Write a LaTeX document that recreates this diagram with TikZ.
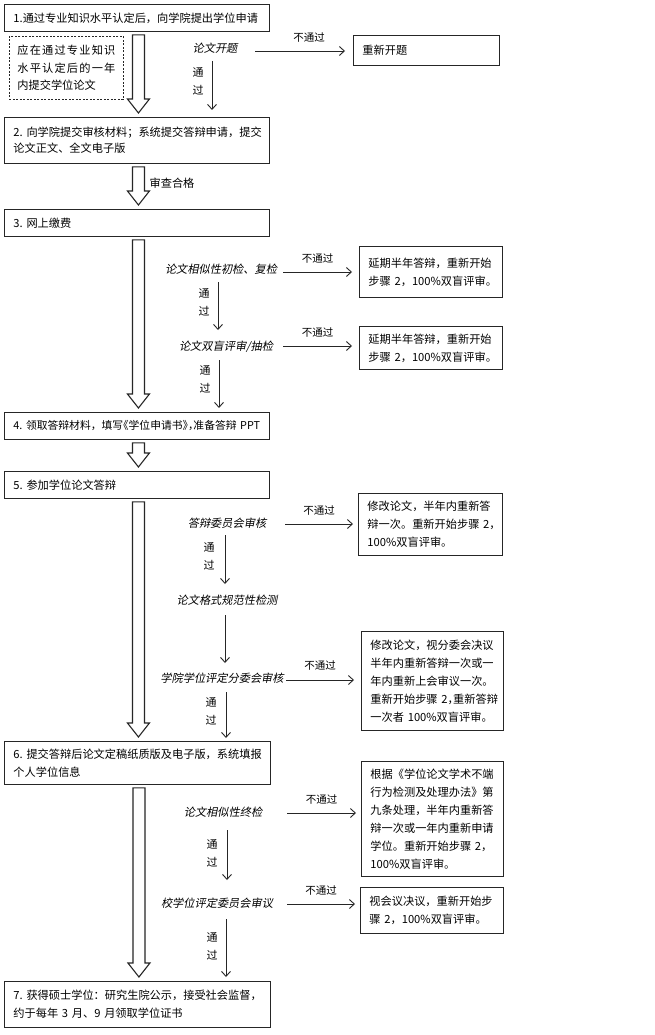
\documentclass[tikz,border=0pt]{standalone}
\usepackage{fontspec}
\setmainfont{Noto Sans CJK SC}
\newfontfamily\cjkit[FakeSlant=0.2]{Noto Sans CJK SC}
\newfontfamily\cjkh[RawFeature=+halt]{Noto Sans CJK SC}
\usetikzlibrary{calc,arrows.meta}
\tikzset{
  mainbox/.style={draw=black!85, line width=0.9pt, anchor=north west, inner xsep=9pt, inner ysep=0pt, align=left, font=\fontsize{11.2pt}{17pt}\selectfont},
  sidebox/.style={mainbox, font=\fontsize{11.2pt}{18pt}\selectfont},
  notebox/.style={draw=black!85, line width=0.8pt, dash pattern=on 2pt off 1.5pt, anchor=north west, inner xsep=8pt, inner ysep=0pt, align=left, font=\fontsize{11.2pt}{17.5pt}\selectfont},
  stlbl/.style={inner sep=0pt, font=\cjkit\fontsize{11.2pt}{13pt}\selectfont},
  passlbl/.style={inner sep=0pt, align=center, font=\fontsize{11pt}{18pt}\selectfont},
  faillbl/.style={inner sep=0pt, font=\fontsize{10.5pt}{12pt}\selectfont},
  plainlbl/.style={inner sep=0pt, font=\fontsize{11.2pt}{13pt}\selectfont},
  arr/.style={draw=black!85, line width=0.9pt, -{Straight Barb[length=5pt,width=9pt]}},
  hollow/.style={draw=black!85, line width=1.1pt, fill=white, line join=miter},
}
\newcommand\hollowarrow[2]{%
  \draw[hollow] let \p1=([xshift=1.5pt]#1.south), \p2=(#2.north) in
    (\x1-6pt,\y1-3pt) -- (\x1-6pt,\y2+18pt) -- (\x1-11pt,\y2+18pt) -- (\x1,\y2+4pt)
    -- (\x1+11pt,\y2+18pt) -- (\x1+6pt,\y2+18pt) -- (\x1+6pt,\y1-3pt) -- cycle;}
\begin{document}
\begin{tikzpicture}[x=1pt,y=-1pt]
\fill[white] (0,0) rectangle (655,1035);
\useasboundingbox (0,0) rectangle (655,1035);

% main column boxes
\node[mainbox, minimum width=265pt, minimum height=27pt, text width=247pt] (b1) at (4,4) {1.通过专业知识水平认定后，向学院提出学位申请};
\node[mainbox, minimum width=265pt, minimum height=46pt, text width=247pt, font=\fontsize{11.2pt}{16pt}\selectfont] (b2) at (4,117) {2.~向学院提交审核材料；系统提交答辩申请，提交\\论文正文、全文电子版};
\node[mainbox, minimum width=265pt, minimum height=27pt, text width=247pt] (b3) at (4,209) {3.~网上缴费};
\node[mainbox, minimum width=265pt, minimum height=27pt, text width=247pt, font=\fontsize{10.8pt}{16pt}\selectfont] (b4) at (4,412) {4.~领取答辩材料，填写{\cjkh 《}学位申请书{\cjkh 》，}准备答辩~PPT};
\node[mainbox, minimum width=265pt, minimum height=27pt, text width=247pt] (b5) at (4,471) {5.~参加学位论文答辩};
\node[mainbox, minimum width=266pt, minimum height=43pt, text width=248pt, font=\fontsize{11.2pt}{18pt}\selectfont] (b6) at (4,741) {6.~提交答辩后论文定稿纸质版及电子版，系统填报\\个人学位信息};
\node[mainbox, minimum width=266pt, minimum height=46pt, text width=248pt, font=\fontsize{11.2pt}{18pt}\selectfont] (b7) at (4,981) {7.~获得硕士学位：研究生院公示，接受社会监督，\\约于每年~3~月、9~月领取学位证书};

% dashed note
\node[notebox, minimum width=114pt, minimum height=63pt, text width=98pt] (note) at (9,36)
  {\makebox[98pt][s]{应\hfil 在\hfil 通\hfil 过\hfil 专\hfil 业\hfil 知\hfil 识}\\
   \makebox[98pt][s]{水\hfil 平\hfil 认\hfil 定\hfil 后\hfil 的\hfil 一\hfil 年}\\
   内提交学位论文};

% side boxes
\node[sidebox, minimum width=146pt, minimum height=30pt, text width=128pt] (r0) at (353,35) {重新开题};
\node[sidebox, minimum width=143pt, minimum height=51pt, text width=125pt] (r1) at (359,246) {延期半年答辩，重新开始\\步骤~2，100\%双盲评审。};
\node[sidebox, minimum width=143pt, minimum height=43pt, text width=125pt] (r2) at (359,326) {延期半年答辩，重新开始\\步骤~2，100\%双盲评审。};
\node[sidebox, minimum width=144pt, minimum height=62pt, text width=126pt] (r3) at (358,493) {修改论文，半年内重新答\\辩一次。重新开始步骤~2，\\100\%双盲评审。};
\node[sidebox, minimum width=142pt, minimum height=99pt, text width=124pt] (r4) at (361,631) {修改论文，视分委会决议\\半年内重新答辩一次或一\\年内重新上会审议一次。\\重新开始步骤~2{\cjkh ，}重新答辩\\一次者~100\%双盲评审。};
\node[sidebox, minimum width=142pt, minimum height=115pt, text width=124pt] (r5) at (361,761) {根据《学位论文学术不端\\行为检测及处理办法》第\\九条处理，半年内重新答\\辩一次或一年内重新申请\\学位。重新开始步骤~2，\\100\%双盲评审。};
\node[sidebox, minimum width=143pt, minimum height=46pt, text width=125pt] (r6) at (360,887) {视会议决议，重新开始步\\骤~2，100\%双盲评审。};

% step labels (italic)
\node[stlbl] (l0) at (215,48) {论文开题};
\node[stlbl] (l1) at (221,269) {论文相似性初检、复检};
\node[stlbl] (l2) at (226,347) {论文双盲评审/抽检};
\node[stlbl] (l3) at (227,523) {答辩委员会审核};
\node[stlbl] (l4) at (227,600) {论文格式规范性检测};
\node[stlbl] (l5) at (222,678) {学院学位评定分委会审核};
\node[stlbl] (l6) at (223,812) {论文相似性终检};
\node[stlbl] (l7) at (217,903) {校学位评定委员会审议};

% pass labels
\node[passlbl] (p0) at (198,81) {通\\过};
\node[passlbl] (p1) at (204,302) {通\\过};
\node[passlbl] (p2) at (205,379.5) {通\\过};
\node[passlbl] (p3) at (209,556) {通\\过};
\node[passlbl] (p5) at (211,711.5) {通\\过};
\node[passlbl] (p6) at (212,853) {通\\过};
\node[passlbl] (p7) at (212,946) {通\\过};

% hollow arrows
\hollowarrow{b1}{b2}
\hollowarrow{b2}{b3}
\hollowarrow{b3}{b4}
\hollowarrow{b4}{b5}
\hollowarrow{b5}{b6}
\hollowarrow{b6}{b7}
\node[plainlbl] (chk) at (172,183) {审查合格};

% fail arrows
\draw[arr] ($(r0.west |- l0)+(-98,3)$) -- ($(r0.west |- l0)+(-8,3)$) node[faillbl, midway, yshift=13pt, xshift=9pt] (n0) {不通过};
\draw[arr] ($(r1.west |- l1)+(-76,3)$) -- ($(r1.west |- l1)+(-7,3)$) node[faillbl, midway, yshift=13pt] (n1) {不通过};
\draw[arr] ($(r2.west |- l2)+(-76,-1)$) -- ($(r2.west |- l2)+(-7,-1)$) node[faillbl, midway, yshift=13pt] (n2) {不通过};
\draw[arr] ($(r3.west |- l3)+(-73,1)$) -- ($(r3.west |- l3)+(-5,1)$) node[faillbl, midway, yshift=13pt] (n3) {不通过};
\draw[arr] ($(r4.west |- l5)+(-75,2)$) -- ($(r4.west |- l5)+(-7,2)$) node[faillbl, midway, yshift=14pt] (n5) {不通过};
\draw[arr] ($(r5.west |- l6)+(-74,1)$) -- ($(r5.west |- l6)+(-5,1)$) node[faillbl, midway, yshift=13pt] (n6) {不通过};
\draw[arr] ($(r6.west |- l7)+(-73,1)$) -- ($(r6.west |- l7)+(-5,1)$) node[faillbl, midway, yshift=13pt] (n7) {不通过};

% pass arrows
\draw[arr] ($(l0)+(-3,13)$) -- ($(l0 |- b2.north)+(-3,-7)$);
\draw[arr] ($(l1)+(-3,13)$) -- ($(l2)+(-8,-17)$);
\draw[arr] ($(l2)+(-7,13)$) -- ($(l2 |- b4.north)+(-7,-4)$);
\draw[arr] ($(l3)+(-2,12)$) -- ($(l4)+(-2,-16)$);
\draw[arr] ($(l4)+(-2,15)$) -- ($(l5)+(3,-15)$);
\draw[arr] ($(l5)+(4,14)$) -- ($(l5 |- b6.north)+(4,-3)$);
\draw[arr] ($(l6)+(4,18)$) -- ($(l7)+(10,-23)$);
\draw[arr] ($(l7)+(9,16)$) -- ($(l7 |- b7.north)+(9,-4)$);
\end{tikzpicture}
\end{document}
